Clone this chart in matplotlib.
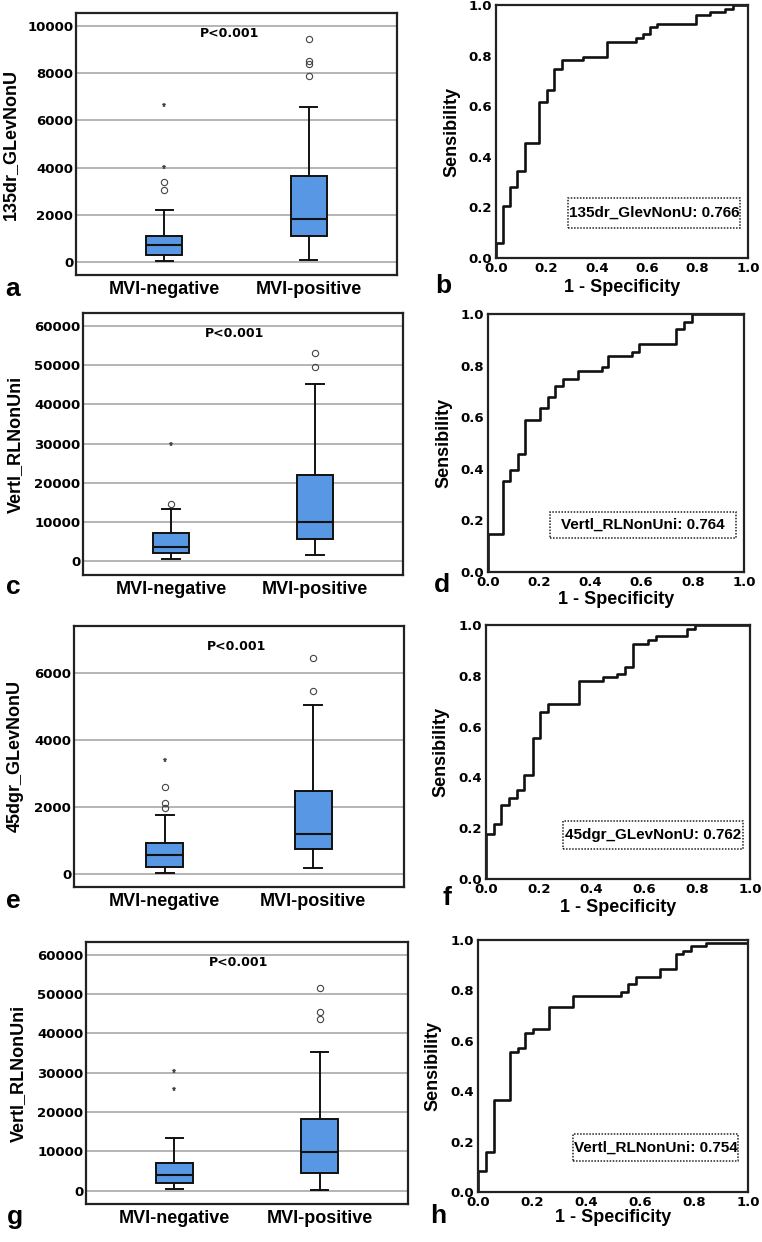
import matplotlib
matplotlib.use('Agg')
import matplotlib.pyplot as plt
from matplotlib.patches import Rectangle

W, H = 762, 1242
DPI = 100
plt.rcParams['font.family'] = ['DejaVu Sans']
plt.rcParams['font.weight'] = 'bold'

# ---------------- data ----------------
groups = ['MVI-negative', 'MVI-positive']
p_text = 'P<0.001'

# box summaries: [whisker low, Q1, median, Q3, whisker high]
a_ylabel = '135dr_GLevNonU'
a_neg_stats = [70, 310, 718, 1113, 2197]
a_pos_stats = [99, 1113, 1817, 3648, 6549]
a_neg_circles = [3042, 3380]
a_neg_stars = [4028, 6634]
a_pos_circles = [7887, 8380, 8507, 9451]
a_pos_stars = []
a_yticks = [0, 2000, 4000, 6000, 8000, 10000]

c_ylabel = 'Vertl_RLNonUni'
c_neg_stats = [508, 2200, 3723, 7107, 13367]
c_pos_stats = [1607, 5753, 9983, 22081, 45093]
c_neg_circles = [14636]
c_neg_stars = [29949]
c_pos_circles = [49577, 53130]
c_pos_stars = []
c_yticks = [0, 10000, 20000, 30000, 40000, 50000, 60000]

e_ylabel = '45dgr_GLevNonU'
e_neg_stats = [50, 228, 585, 922, 1775]
e_pos_stats = [198, 744, 1210, 2480, 5040]
e_neg_circles = [1984, 2133, 2599]
e_neg_stars = [3422]
e_pos_circles = [5456, 6468]
e_pos_stars = []
e_yticks = [0, 2000, 4000, 6000]

g_ylabel = 'Vertl_RLNonUni'
g_neg_stats = [338, 1861, 3976, 7107, 13452]
g_pos_stats = [169, 4569, 9898, 18190, 35279]
g_neg_circles = []
g_neg_stars = [25719, 30372]
g_pos_circles = [43739, 45431, 51607]
g_pos_stars = []
g_yticks = [0, 10000, 20000, 30000, 40000, 50000, 60000]

# ROC step curves: at each fpr the curve rises to the given tpr
b_fpr = [0, 0.026, 0.055, 0.085, 0.115, 0.172, 0.201, 0.231, 0.260, 0.346,
         0.441, 0.555, 0.584, 0.610, 0.637, 0.793, 0.851, 0.908, 0.941, 1.0]
b_tpr = [0.059, 0.206, 0.280, 0.342, 0.456, 0.618, 0.664, 0.749, 0.782, 0.795,
         0.854, 0.870, 0.887, 0.913, 0.926, 0.959, 0.972, 0.986, 1.0, 1.0]
b_label = '135dr_GlevNonU: 0.766'

d_fpr = [0, 0.057, 0.087, 0.116, 0.145, 0.204, 0.234, 0.262, 0.292, 0.351,
         0.444, 0.470, 0.561, 0.591, 0.736, 0.765, 0.795, 1.0]
d_tpr = [0.146, 0.353, 0.397, 0.457, 0.591, 0.634, 0.677, 0.721, 0.750, 0.780,
         0.796, 0.838, 0.854, 0.884, 0.942, 0.970, 1.0, 1.0]
d_label = 'Vertl_RLNonUni: 0.764'

f_fpr = [0, 0.029, 0.058, 0.088, 0.117, 0.145, 0.177, 0.203, 0.233, 0.353,
         0.443, 0.498, 0.527, 0.556, 0.615, 0.644, 0.763, 0.792, 1.0]
f_tpr = [0.176, 0.218, 0.292, 0.318, 0.351, 0.410, 0.557, 0.659, 0.689, 0.780,
         0.794, 0.807, 0.836, 0.925, 0.941, 0.957, 0.983, 1.0, 1.0]
f_label = '45dgr_GLevNonU: 0.762'

h_fpr = [0, 0.028, 0.058, 0.117, 0.148, 0.175, 0.204, 0.262, 0.352, 0.528,
         0.556, 0.584, 0.673, 0.732, 0.759, 0.790, 0.846, 1.0]
h_tpr = [0.083, 0.159, 0.364, 0.556, 0.573, 0.632, 0.645, 0.735, 0.779, 0.795,
         0.825, 0.854, 0.883, 0.943, 0.958, 0.976, 0.989, 1.0]
h_label = 'Vertl_RLNonUni: 0.754'

roc_ticks = [0.0, 0.2, 0.4, 0.6, 0.8, 1.0]

# ---------------- style ----------------
BLUE = '#5797e3'
GRID = '#a8a8a8'
ARIAL = 'Liberation Sans'

fig = plt.figure(figsize=(W / DPI, H / DPI), dpi=DPI)
fig.patch.set_facecolor('white')


def px_rect(left, top, right, bottom):
    return [left / W, 1 - bottom / H, (right - left) / W, (bottom - top) / H]


def ftext(x, y, s, **kw):
    fig.text(x / W, 1 - y / H, s, **kw)


def box_panel(rect, ylabel, neg, pos, neg_c, neg_s, pos_c, pos_s, yticks, ylim,
              ylabel_x, letter, letter_xy, p_x):
    left, top, right, bottom = rect
    ax = fig.add_axes(px_rect(*rect))
    stats = []
    for st, circ in ((neg, neg_c), (pos, pos_c)):
        stats.append(dict(whislo=st[0], q1=st[1], med=st[2], q3=st[3],
                          whishi=st[4], fliers=circ))
    ax.bxp(stats, positions=[1, 2], widths=0.25, capwidths=0.12,
           patch_artist=True,
           boxprops=dict(facecolor=BLUE, edgecolor='#111111', linewidth=1.4),
           medianprops=dict(color='#111111', linewidth=1.5),
           whiskerprops=dict(color='#111111', linewidth=1.4),
           capprops=dict(color='#111111', linewidth=1.4),
           flierprops=dict(marker='o', markerfacecolor='none',
                           markeredgecolor='#444444', markersize=4.5,
                           markeredgewidth=0.8))
    for xpos, stars in ((1, neg_s), (2, pos_s)):
        if stars:
            ax.plot([xpos] * len(stars), stars, linestyle='none', marker='*',
                    color='#444444', markersize=3.6, markeredgewidth=0.3)
    ax.set_xlim(0.39, 2.61)
    ax.set_ylim(*ylim)
    ax.set_yticks(yticks)
    ax.set_yticklabels([str(t) for t in yticks])
    ax.yaxis.grid(True, color=GRID, linewidth=1.2)
    ax.set_axisbelow(True)
    ax.set_xticks([1, 2])
    ax.set_xticklabels(groups, fontfamily=ARIAL, fontsize=13, fontweight='bold')
    ax.tick_params(axis='x', length=0, pad=4)
    ax.tick_params(axis='y', length=0, pad=2, labelsize=9.5)
    for sp in ax.spines.values():
        sp.set_linewidth(1.6)
        sp.set_color('#222222')
    ax.text(p_x, 0.92, p_text, transform=ax.transAxes, ha='center',
            va='center', fontsize=9, fontweight='bold')
    ftext(ylabel_x, (top + bottom) / 2, ylabel, rotation=90, ha='center',
          va='center', fontfamily=ARIAL, fontsize=13, fontweight='bold')
    ftext(letter_xy[0], letter_xy[1], letter, ha='center', va='center',
          fontfamily=ARIAL, fontsize=19, fontweight='bold')
    return ax


def roc_panel(rect, fpr, tpr, label, box_px, ylabel_x, xlabel_y, letter,
              letter_xy):
    left, top, right, bottom = rect
    ax = fig.add_axes(px_rect(*rect))
    ax.step([0] + fpr, [0] + tpr, where='post', color='#111111', linewidth=1.9)
    ax.set_xlim(0, 1)
    ax.set_ylim(0, 1)
    ax.set_xticks(roc_ticks)
    ax.set_yticks(roc_ticks)
    ax.set_xticklabels(['%.1f' % t for t in roc_ticks])
    ax.set_yticklabels(['%.1f' % t for t in roc_ticks])
    ax.tick_params(axis='both', length=0, labelsize=9.5)
    ax.tick_params(axis='x', pad=3)
    ax.tick_params(axis='y', pad=3)
    for sp in ax.spines.values():
        sp.set_linewidth(1.6)
        sp.set_color('#222222')
    bx0, by0, bx1, by1 = box_px
    fx0 = (bx0 - left) / (right - left)
    fx1 = (bx1 - left) / (right - left)
    fy0 = (bottom - by1) / (bottom - top)
    fy1 = (bottom - by0) / (bottom - top)
    ax.add_patch(Rectangle((fx0, fy0), fx1 - fx0, fy1 - fy0,
                           transform=ax.transAxes, fill=False,
                           linestyle=(0, (1, 1)), linewidth=1.1,
                           edgecolor='#222222'))
    ax.text((fx0 + fx1) / 2, (fy0 + fy1) / 2, label, transform=ax.transAxes,
            ha='center', va='center', fontfamily=ARIAL, fontsize=11,
            fontweight='bold')
    ftext(ylabel_x, (top + bottom) / 2, 'Sensibility', rotation=90,
          ha='center', va='center', fontfamily=ARIAL, fontsize=13,
          fontweight='bold')
    ftext((left + right) / 2, xlabel_y, '1 - Specificity', ha='center',
          va='center', fontfamily=ARIAL, fontsize=13, fontweight='bold')
    ftext(letter_xy[0], letter_xy[1], letter, ha='center', va='center',
          fontfamily=ARIAL, fontsize=19, fontweight='bold')
    return ax


box_panel((76, 13, 397, 275), a_ylabel, a_neg_stats, a_pos_stats,
          a_neg_circles, a_neg_stars, a_pos_circles, a_pos_stars,
          a_yticks, (-537, 10536), 10, 'a', (13, 289), 0.477)
box_panel((83, 313, 403, 575), c_ylabel, c_neg_stats, c_pos_stats,
          c_neg_circles, c_neg_stars, c_pos_circles, c_pos_stars,
          c_yticks, (-3469, 63283), 15, 'c', (13, 587), 0.475)
box_panel((74, 626, 404, 887), e_ylabel, e_neg_stats, e_pos_stats,
          e_neg_circles, e_neg_stars, e_pos_circles, e_pos_stars,
          e_yticks, (-377, 7410), 15, 'e', (13, 901), 0.494)
box_panel((86, 942, 408, 1204), g_ylabel, g_neg_stats, g_pos_stats,
          g_neg_circles, g_neg_stars, g_pos_circles, g_pos_stars,
          g_yticks, (-3384, 63198), 18, 'g', (15, 1217), 0.475)

roc_panel((496, 5, 748, 258), b_fpr, b_tpr, b_label, (568, 198, 740, 228),
          452, 287, 'b', (443, 286))
roc_panel((488, 314, 744, 572), d_fpr, d_tpr, d_label, (550, 512, 736, 538),
          444, 600, 'd', (442, 585))
roc_panel((486, 625, 750, 879), f_fpr, f_tpr, f_label, (563, 821, 743, 849),
          441, 907, 'f', (447, 898))
roc_panel((478, 940, 748, 1192), h_fpr, h_tpr, h_label, (573, 1134, 738, 1161),
          433, 1217, 'h', (438, 1216))

fig.savefig('out.png', dpi=DPI, facecolor='white')
